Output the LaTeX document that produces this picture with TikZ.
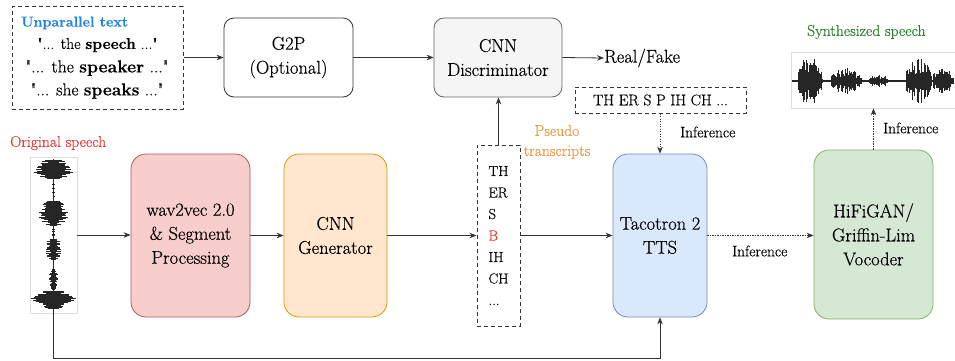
\documentclass[tikz,border=0pt]{standalone}
\usepackage{fontspec}
\setmainfont{Latin Modern Roman}[Ligatures=TeXOff, FakeBold=0.4]
\usetikzlibrary{arrows.meta}
\definecolor{redfill}{HTML}{F8CECC}\definecolor{redline}{HTML}{B85450}
\definecolor{orfill}{HTML}{FFE6CC}\definecolor{orline}{HTML}{D79B00}
\definecolor{bluefill}{HTML}{DAE8FC}\definecolor{blueline}{HTML}{6C8EBF}
\definecolor{grfill}{HTML}{D5E8D4}\definecolor{grline}{HTML}{82B366}
\definecolor{discfill}{HTML}{F5F5F5}\definecolor{discline}{HTML}{666666}
\definecolor{headblue}{HTML}{1E82E6}
\definecolor{origred}{HTML}{E53935}
\definecolor{synthgreen}{HTML}{2A7F2A}
\definecolor{pseudoor}{HTML}{EA9A45}
\definecolor{frame}{HTML}{DDDDDD}
\begin{document}
\begin{tikzpicture}[x=1pt,y=-1pt,
  bigbox/.style={draw, line width=0.8pt, rounded corners=15pt, align=center, inner sep=0pt,
    font=\fontsize{18.5}{24}\selectfont},
  topbox/.style={draw, line width=0.8pt, rounded corners=10pt, align=center, inner sep=0pt,
    minimum width=129pt, minimum height=79pt, font=\fontsize{18.5}{24}\selectfont},
  dbox/.style={draw=black!80, line width=1pt, dash pattern=on 4pt off 3pt, inner sep=0pt},
  arr/.style={draw=black!80, line width=0.8pt, -{Stealth[length=7pt,width=5.5pt]}},
  dotarr/.style={arr, dash pattern=on 1.2pt off 1.3pt},
  lbl/.style={inner sep=0pt, anchor=west, font=\fontsize{15.3}{20}\selectfont},
  wave/.style={line width=0.55pt, draw=black!85}
]
\useasboundingbox (0,0) rectangle (955,361);

% --- unparallel text
\node[dbox, minimum width=171pt, minimum height=102pt] (unpar) at (97.5,58) {};
\node[inner sep=0pt, anchor=west, text=headblue, font=\fontsize{14.3}{18}\selectfont\bfseries] (head) at (21,23) {Unparallel text};
\node[inner sep=0pt, font=\fontsize{15.7}{20}\selectfont] (l1) at (97.5,45) {"... the \textbf{speech} ..."};
\node[inner sep=0pt, font=\fontsize{17.6}{22}\selectfont] (l2) at (97,68) {"... the \textbf{speaker} ..."};
\node[inner sep=0pt, font=\fontsize{17.4}{22}\selectfont] (l3) at (97,91) {"... she \textbf{speaks} ..."};

% --- top boxes
\node[topbox, draw=black!80, fill=white] (g2p) at (288.5,57.5) {G2P\\(Optional)};
\node[topbox, draw=discline, fill=discfill, minimum width=128pt] (disc) at (498,57.5) {CNN\\Discriminator};
\node[inner sep=0pt, anchor=west, font=\fontsize{18.5}{24}\selectfont] (rf) at (604,58) {Real/Fake};

% --- main row
\node[bigbox, draw=redline, fill=redfill, minimum width=119pt, minimum height=163pt] (w2v) at (190.5,235.5) {wav2vec 2.0\\\& Segment\\Processing};
\node[bigbox, draw=orline, fill=orfill, minimum width=103pt, minimum height=163pt] (gen) at (335.5,235.5) {CNN\\Generator};
\node[bigbox, draw=blueline, fill=bluefill, minimum width=94pt, minimum height=163pt] (taco) at (660,235.5) {Tacotron 2\\TTS};
\node[bigbox, draw=grline, fill=grfill, minimum width=119pt, minimum height=169pt] (hifi) at (873.5,234.5) {HiFiGAN/\\Griffin-Lim\\Vocoder};

% --- pseudo transcripts
\node[dbox, minimum width=43pt, minimum height=181pt, align=left, font=\fontsize{14.6}{21.5}\selectfont] (pseudo) at (498.5,235.5)
  {TH\\ER\\S\\\textcolor{origred}{B}\\IH\\CH\\...};
\node[inner sep=0pt, align=center, text=pseudoor, font=\fontsize{15.6}{20}\selectfont] (plabel) at (557,142) {Pseudo\\transcripts};

% --- phoneme input
\node[dbox, minimum width=171pt, minimum height=26pt, font=\fontsize{15.4}{20}\selectfont] (tts) at (660.5,100) {TH ER S P IH CH ...};

% --- original speech waveform
\node[draw=frame, line width=0.6pt, minimum width=47pt, minimum height=156pt, inner sep=0pt] (origwav) at (53.5,235) {};
\node[inner sep=0pt, anchor=west, text=origred, font=\fontsize{15.6}{20}\selectfont] (origlbl) at (10,143) {Original speech};
\pgfmathsetseed{11}
\foreach \s/\e/\a in {159/179/22, 179/200/1.5, 200/226/17, 226/238/1.5, 238/260/9, 260/268/0.4, 268/290/5, 290/309/23, 309/317/1}{
  \pgfmathtruncatemacro\n{(\e-\s)/0.8}
  \foreach \i in {0,...,\n}{
    \pgfmathsetmacro\yy{\s+\i*0.8}
    \pgfmathsetmacro\w{max(0.6,\a*pow(abs(sin(180*(\yy-\s)/(\e-\s))),0.45)*(0.35+0.65*rnd))}
    \draw[wave] (53.5-\w,\yy) -- (53.5+\w,\yy);
  }
}

% --- synthesized speech waveform
\node[draw=frame, line width=0.6pt, minimum width=164pt, minimum height=56pt, inner sep=0pt] (synwav) at (873,80) {};
\node[inner sep=0pt, anchor=west, text=synthgreen, font=\fontsize{15.6}{20}\selectfont] (synlbl) at (807,32) {Synthesized speech};
\foreach \s/\e/\a in {792/797/1, 797/822/25, 822/830/2, 830/862/13, 862/868/2, 868/888/7, 888/905/1.5, 905/932/22, 932/954/13}{
  \pgfmathtruncatemacro\n{(\e-\s)/0.8}
  \foreach \i in {0,...,\n}{
    \pgfmathsetmacro\xx{\s+\i*0.8}
    \pgfmathsetmacro\w{max(0.6,\a*pow(abs(sin(180*(\xx-\s)/(\e-\s))),0.45)*(0.35+0.65*rnd))}
    \draw[wave] (\xx,81-\w) -- (\xx,81+\w);
  }
}

% --- connectors
\draw[arr] (unpar.east |- g2p.west) -- (g2p.west);
\draw[arr] (g2p.east) -- (disc.west);
\draw[arr] (disc.east) -- (rf.west);
\draw[arr] (origwav.east) -- (w2v.west |- origwav.east);
\draw[arr] (w2v.east) -- (gen.west);
\draw[arr] (gen.east) -- (pseudo.west);
\draw[arr] (pseudo.east) -- (taco.west);
\draw[arr] (pseudo.north) -- (pseudo.north |- disc.south);
\draw[dotarr] (taco.north |- tts.south) -- (taco.north);
\draw[dotarr] (taco.east) -- (taco.east -| hifi.west);
\draw[dotarr] (hifi.north) -- (hifi.north |- synwav.south);
\draw[arr] (origwav.south) -- ++(0,45) -| (taco.south);

% --- inference labels
\node[lbl] (inf1) at (680,132) {Inference};
\node[lbl] (inf2) at (732,251) {Inference};
\node[lbl] (inf3) at (883,128) {Inference};
\end{tikzpicture}
\end{document}
